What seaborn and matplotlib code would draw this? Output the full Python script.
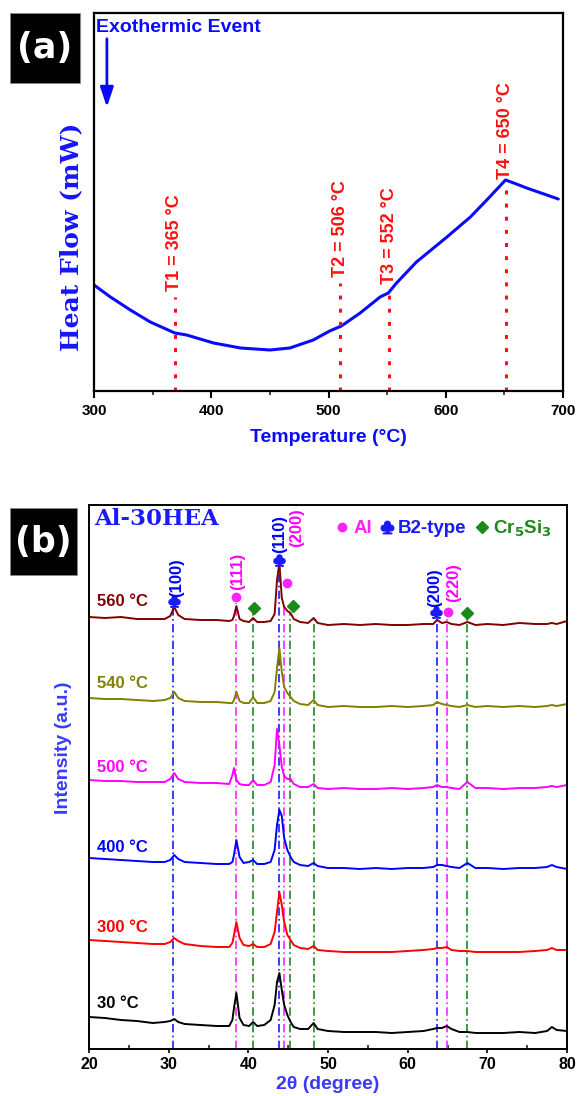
import matplotlib
matplotlib.use("Agg")
import matplotlib.pyplot as plt
from matplotlib.lines import Line2D
from matplotlib.patches import Rectangle
import pandas as pd
import seaborn as sns

sns.set_theme(style="ticks")
plt.rcParams["font.family"] = ["Liberation Sans", "DejaVu Sans"]
plt.rcParams["mathtext.default"] = "regular"
plt.rcParams["axes.linewidth"] = 1.5

# ---------------- (a) DSC trace (arbitrary heat-flow units) ----------------
dsc_temp = [300, 314, 331, 348, 369, 379, 402, 425, 450, 467, 487, 501, 511,
            527, 544, 551, 558, 575, 601, 621, 635, 651, 658, 669, 696]
dsc_flow = [106, 94, 81, 69, 58, 56, 48, 43, 41, 43, 51, 60, 65,
            78, 94, 98, 108, 129, 154, 174, 191, 211, 208, 203, 192]

event_names = ["T1", "T2", "T3", "T4"]
event_temps = [365, 506, 552, 650]      # values written in the labels
event_pos = [369, 510, 552, 651]        # where the dotted markers sit
event_top = [94, 108, 101, 206]

# ---------------- (b) XRD patterns (stacked, arbitrary units) ----------------
two_theta = [20, 22, 24, 26, 28, 29.5, 30.2, 30.7, 31.2, 32, 34, 36, 37.6, 38.0,
             38.2, 38.5, 38.9, 39.4, 40.1, 40.6, 41.1, 42, 42.8, 43.3, 43.6,
             43.9, 44.2, 44.5, 44.9, 45.3, 45.7, 46.5, 47.5, 48.2, 48.7, 50,
             52, 54, 56, 58, 60, 62, 63.2, 63.7, 64.3, 64.9, 65.5, 66.5, 67.5,
             68.5, 70, 72, 74, 76, 77.5, 78.1, 78.7, 80]

xrd_560 = [432, 431, 432, 430, 430, 430, 433, 442, 434, 430, 429, 429, 428, 429,
           433, 443, 430, 428, 427, 431, 427, 427, 428, 435, 469,
           486, 451, 442, 438, 436, 430, 427, 426, 431, 426, 424,
           425, 424, 425, 424, 424, 425, 425, 429, 426, 427, 425, 424, 427,
           424, 425, 424, 426, 425, 425, 426, 425, 428]
xrd_540 = [351, 350, 350, 349, 348, 349, 351, 357, 351, 348, 347, 347, 346, 346,
           349, 357, 348, 346, 346, 352, 346, 346, 348, 357, 381,
           401, 377, 362, 356, 352, 348, 345, 344, 349, 344, 342,
           343, 342, 342, 343, 342, 343, 344, 347, 345, 344, 343, 342, 344,
           342, 343, 342, 343, 342, 343, 344, 343, 345]
xrd_500 = [269, 268, 268, 267, 267, 267, 270, 276, 270, 267, 266, 266, 265, 274,
           281, 269, 265, 264, 264, 269, 264, 264, 267, 284, 320,
           304, 282, 273, 270, 270, 265, 262, 262, 265, 261, 260,
           261, 260, 260, 261, 260, 261, 262, 264, 262, 262, 261, 260, 267,
           261, 261, 260, 261, 261, 262, 263, 262, 264]
xrd_400 = [191, 190, 189, 188, 187, 187, 189, 194, 190, 187, 186, 185, 185, 187,
           194, 209, 192, 186, 187, 189, 185, 185, 187, 199, 224,
           239, 233, 211, 199, 192, 187, 184, 183, 186, 183, 181,
           181, 180, 181, 180, 181, 181, 182, 184, 184, 183, 182, 181, 186,
           181, 181, 180, 181, 181, 182, 184, 182, 180]
xrd_300 = [109, 108, 107, 106, 105, 105, 107, 111, 108, 105, 103, 102, 102, 106,
           114, 127, 111, 104, 103, 105, 102, 102, 105, 117, 137,
           157, 144, 127, 114, 109, 104, 101, 100, 103, 99, 98,
           97, 97, 97, 97, 98, 99, 100, 101, 101, 102, 99, 98, 98,
           97, 97, 97, 97, 98, 99, 101, 99, 99]
xrd_30 = [32, 31, 29, 28, 26, 27, 28, 30, 27, 25, 24, 23, 23, 29,
          41, 56, 31, 24, 23, 27, 23, 24, 29, 44, 67,
          76, 59, 44, 34, 27, 22, 20, 20, 26, 20, 18,
          17, 17, 17, 16, 17, 18, 20, 21, 21, 23, 20, 17, 17,
          16, 16, 16, 17, 16, 18, 22, 19, 18]

xrd_temps = ["30 °C", "300 °C", "400 °C", "500 °C", "540 °C", "560 °C"]
xrd_series = [xrd_30, xrd_300, xrd_400, xrd_500, xrd_540, xrd_560]
xrd_colors = ["#000000", "#ff0000", "#0000ff", "#ff00ff", "#808000", "#800000"]
xrd_label_y = [46, 121, 202, 281, 366, 447]

# reference lines: position, top of line
b2_lines = [30.6, 43.9, 63.7]
b2_tops = [443, 484, 433]
al_lines = [38.4, 44.45, 64.9]
al_tops = [446, 444, 433]
cr_lines = [40.6, 45.2, 48.3, 67.5]
cr_tops = [436, 437, 429, 432]

# phase markers above the top pattern
b2_marks_x = [30.67, 43.8, 63.5]
b2_marks_y = [448, 489, 437]
al_marks_x = [38.41, 44.8, 65.0]
al_marks_y = [452, 466, 437]
cr_marks_x = [40.7, 45.55, 67.5]
cr_marks_y = [441, 443, 436]

hkl_text = ["(100)", "(111)", "(110)", "(200)", "(200)", "(220)"]
hkl_x = [31.05, 38.7, 43.97, 46.05, 63.37, 65.75]
hkl_y = [452, 459, 496, 502, 442, 447]
hkl_col = ["#0000ff", "#ff00ff", "#0000ff", "#ff00ff", "#0000ff", "#ff00ff"]

W, H = 579, 1096
fig = plt.figure(figsize=(W / 100, H / 100), dpi=100)

# ======================= panel (a) =======================
ax1 = fig.add_axes([94 / W, 1 - 391 / H, 469 / W, 378 / H])
sns.lineplot(x=dsc_temp, y=dsc_flow, ax=ax1, color="#0a0aff", lw=2.2)
ax1.set_xlim(300, 700)
ax1.set_ylim(0, 378)
ax1.set_yticks([])
ax1.set_xticks([300, 400, 500, 600, 700])
ax1.set_xticks([350, 450, 550, 650], minor=True)
ax1.tick_params(axis="x", which="major", direction="out", length=5, width=1.5,
                pad=4, labelsize=11, colors="black")
ax1.tick_params(axis="x", which="minor", direction="out", length=3, width=1.2)
for lab in ax1.get_xticklabels():
    lab.set_fontweight("bold")
for sp in ax1.spines.values():
    sp.set_color("black")
    sp.set_linewidth(1.6)

for name, t, xp, top in zip(event_names, event_temps, event_pos, event_top):
    ax1.vlines(xp, 0, top, colors="#ff1010", lw=2.2, linestyles=(0, (1.3, 3)))
    ax1.text(xp, top + 6, f"{name} = {t} °C", rotation=90, ha="center",
             va="bottom", color="#ff1010", fontsize=13, fontweight="bold")

ax1.text(302, 364, "Exothermic Event", ha="left", va="center", color="#0a0aff",
         fontsize=14, fontweight="bold")
ax1.annotate("", xy=(311, 281), xytext=(311, 355),
             arrowprops=dict(arrowstyle="-|>,head_length=0.6,head_width=0.2",
                             color="#0a0aff", lw=2, mutation_scale=20))

ax1.set_xlabel("Temperature (°C)", color="#0a0aff", fontsize=14, fontweight="bold")
ax1.xaxis.set_label_coords(0.5, -0.1)
ax1.set_ylabel("Heat Flow (mW)", color="#1515ff", fontsize=18, fontweight="bold",
               family=["DejaVu Serif"])
ax1.yaxis.set_label_coords(-0.024, 0.407)

# ======================= panel (b) =======================
ax2 = fig.add_axes([89 / W, 1 - 1049 / H, 478 / W, 544 / H])

for xs, tops, col in [(b2_lines, b2_tops, "#1a1aff"), (al_lines, al_tops, "#ff22ff"),
                      (cr_lines, cr_tops, "#1a8a1a")]:
    for xv, tp in zip(xs, tops):
        ax2.vlines(xv, 0, tp, colors=col, lw=1.2, linestyles=(0, (5, 2, 1, 2)),
                   zorder=1)

df = pd.DataFrame({
    "two_theta": two_theta * len(xrd_series),
    "intensity": [v for s in xrd_series for v in s],
    "temp": [t for t in xrd_temps for _ in two_theta],
})
sns.lineplot(data=df, x="two_theta", y="intensity", hue="temp",
             palette=dict(zip(xrd_temps, xrd_colors)), lw=1.4, legend=False,
             ax=ax2, zorder=2)

for t, col, yy in zip(xrd_temps, xrd_colors, xrd_label_y):
    ax2.text(21.0, yy, t, color=col, fontsize=12, fontweight="bold",
             ha="left", va="center")

ax2.plot(b2_marks_x, b2_marks_y, ls="none", marker=r"$\clubsuit$", ms=8,
         color="#1a1aff", zorder=3)
ax2.plot(al_marks_x, al_marks_y, ls="none", marker="o", ms=6,
         color="#ff22ff", zorder=3)
ax2.plot(cr_marks_x, cr_marks_y, ls="none", marker="D", ms=6,
         color="#1a8a1a", zorder=3)

for txt, xv, yv, col in zip(hkl_text, hkl_x, hkl_y, hkl_col):
    ax2.text(xv, yv, txt, rotation=90, ha="center", va="bottom", color=col,
             fontsize=12, fontweight="bold")

ax2.text(20.6, 530, "Al-30HEA", ha="left", va="center", color="#1a1aff",
         fontsize=16.5, fontweight="bold", family=["DejaVu Serif"])

handles = [
    Line2D([], [], ls="none", marker="o", ms=6, color="#ff22ff"),
    Line2D([], [], ls="none", marker=r"$\clubsuit$", ms=9, color="#1a1aff"),
    Line2D([], [], ls="none", marker="D", ms=6, color="#1a8a1a"),
]
leg = ax2.legend(handles, ["Al", "B2-type", r"Cr$_{\mathbf{5}}$Si$_{\mathbf{3}}$"],
                 loc="upper right", bbox_to_anchor=(0.995, 1.0), ncol=3,
                 frameon=False, handlelength=0.6, handletextpad=0.3,
                 columnspacing=0.5, borderaxespad=0.3,
                 prop={"weight": "bold", "size": 13.5})
for txt, col in zip(leg.get_texts(), ["#ff22ff", "#1a1aff", "#1a8a1a"]):
    txt.set_color(col)

ax2.set_xlim(20, 80)
ax2.set_ylim(0, 544)
ax2.set_yticks([])
ax2.set_xticks([20, 30, 40, 50, 60, 70, 80])
ax2.set_xticks([25, 35, 45, 55, 65, 75], minor=True)
ax2.tick_params(axis="x", which="major", direction="out", length=3, width=1.2,
                pad=3, labelsize=11.5, colors="black")
ax2.tick_params(axis="x", which="minor", direction="in", length=3, width=1.2)
for lab in ax2.get_xticklabels():
    lab.set_fontweight("bold")
for sp in ax2.spines.values():
    sp.set_color("black")
    sp.set_linewidth(1.4)

ax2.set_xlabel("2θ (degree)", color="#3a3aff", fontsize=14, fontweight="bold")
ax2.xaxis.set_label_coords(0.5, -0.05)
ax2.set_ylabel("Intensity (a.u.)", color="#3a3aff", fontsize=14, fontweight="bold")
ax2.yaxis.set_label_coords(-0.036, 0.553)

# panel tags
for (x0, y0, side, tag) in [(10, 13, 70, "(a)"), (10, 508, 67, "(b)")]:
    fig.patches.append(Rectangle((x0 / W, 1 - (y0 + side) / H), side / W, side / H,
                                 transform=fig.transFigure, facecolor="black",
                                 edgecolor="#888888", lw=0.6))
    fig.text((x0 + side / 2) / W, 1 - (y0 + side / 2) / H, tag, color="white",
             fontsize=25, fontweight="bold", ha="center", va="center",
             family=["DejaVu Sans"])

fig.savefig("out.png", dpi=100)
